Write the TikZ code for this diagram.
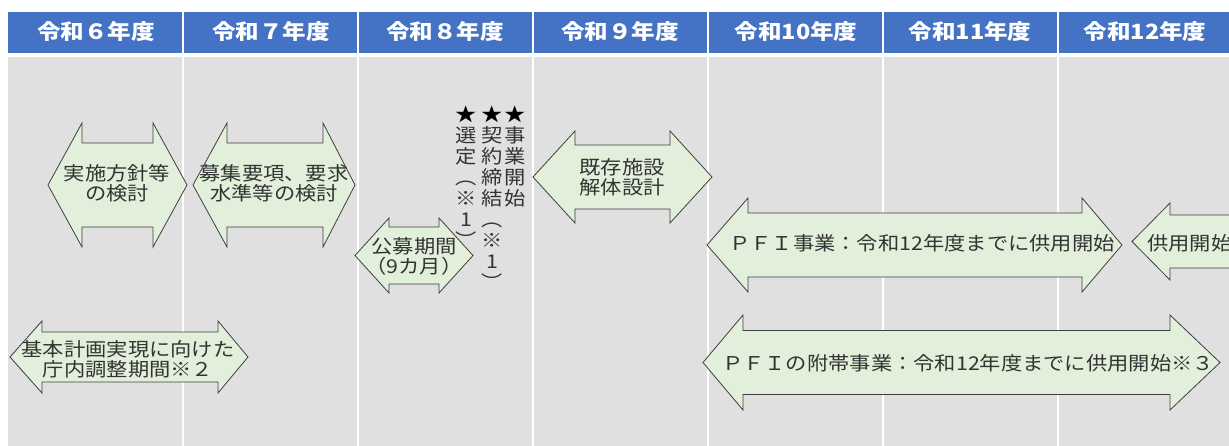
\documentclass[tikz,border=0pt]{standalone}
\usepackage{fontspec}
\newfontfamily\jp[FakeStretch=1.12]{Noto Sans CJK JP}
\definecolor{hdrblue}{HTML}{4472C4}
\definecolor{bodygray}{HTML}{E0E0E0}
\definecolor{arrfill}{HTML}{E2EFDA}
\definecolor{arrline}{HTML}{3F3F3F}
\definecolor{txt}{HTML}{333333}
\newcommand\dblarr[8]{%
  \draw[arr] (#2,#6) -- (#3,#6-#7) -- (#3,#6-#8) -- (#4,#6-#8) -- (#4,#6-#7) -- (#5,#6)
    -- (#4,#6+#7) -- (#4,#6+#8) -- (#3,#6+#8) -- (#3,#6+#7) -- cycle;
  \coordinate (#1) at ({(#2+#5)/2},#6);
}
\begin{document}
\begin{tikzpicture}[x=1pt,y=-1pt,
  hdrtext/.style={font=\jp\bfseries\fontsize{21}{24}\selectfont, text=white, inner sep=0},
  lbl/.style={font=\jp\fontsize{19}{20}\selectfont, text=txt, align=center, inner sep=0},
  vlbl/.style={font=\jp\fontsize{19}{21}\selectfont, text=txt, align=center, inner sep=0, anchor=north},
  arr/.style={draw=arrline, fill=arrfill, line width=0.8pt, line join=miter},
  sep/.style={draw=white, line width=2pt}
]
\useasboundingbox (0,0) rectangle (1229,446);
\clip (0,0) rectangle (1229,446);
\fill[white] (0,0) rectangle (1229,446);
\fill[hdrblue] (8,12) rectangle (1229,53);
\fill[bodygray] (8,57) rectangle (1229,446);
\foreach \x in {183,358,533,708,883,1058} \draw[sep] (\x,12) -- (\x,446);

% headers
\node[hdrtext] (h6)  at (96,32)   {令和６年度};
\node[hdrtext] (h7)  at (271,32)  {令和７年度};
\node[hdrtext] (h8)  at (445,32)  {令和８年度};
\node[hdrtext] (h9)  at (620,32)  {令和９年度};
\node[hdrtext] (h10) at (796,32)  {令和10年度};
\node[hdrtext] (h11) at (970,32)  {令和11年度};
\node[hdrtext] (h12) at (1145,32) {令和12年度};

% arrows
\dblarr{a1}{48}{82}{153}{187}{185}{62}{42}
\node[lbl] (t1) at (117,183) {実施方針等\\の検討};
\dblarr{a2}{193}{227}{323}{355}{185}{62}{42}
\node[lbl] (t2) at (274,183) {募集要項、要求\\水準等の検討};
\dblarr{a3}{355}{389}{439}{473}{255.5}{37.5}{28.5}
\node[lbl] (t3) at (414,256) {公募期間\\（9カ月）};
\dblarr{a4}{533}{575}{670}{712}{177}{46}{32}
\node[lbl] (t4) at (622,177) {既存施設\\解体設計};
\dblarr{a5}{707}{748}{1082}{1122}{245}{47}{32}
\node[lbl] (t5) at (922,243) {ＰＦＩ事業：令和12年度までに供用開始};
\dblarr{a6}{1132}{1170}{1300}{1340}{241.5}{38.5}{26.5}
\node[lbl, anchor=west] (t6) at (1147,243) {供用開始};
\dblarr{a7}{10}{42}{218}{248}{357}{36}{25}
\node[lbl] (t7) at (128,359) {基本計画実現に向けた\\庁内調整期間※２};
\dblarr{a8}{703}{743}{1170}{1220}{362.5}{47.5}{32}
\node[lbl] (t8) at (968,363) {ＰＦＩの附帯事業：令和12年度までに供用開始※３};

% vertical labels
\node[vlbl] (v1) at (466,106) {{\color{black}★}\\選\\定\\︵\\※\\1\\︶};
\node[vlbl] (v2) at (492,106) {{\color{black}★}\\契\\約\\締\\結\\︵\\※\\1\\︶};
\node[vlbl] (v3) at (515,106) {{\color{black}★}\\事\\業\\開\\始};
\end{tikzpicture}
\end{document}
